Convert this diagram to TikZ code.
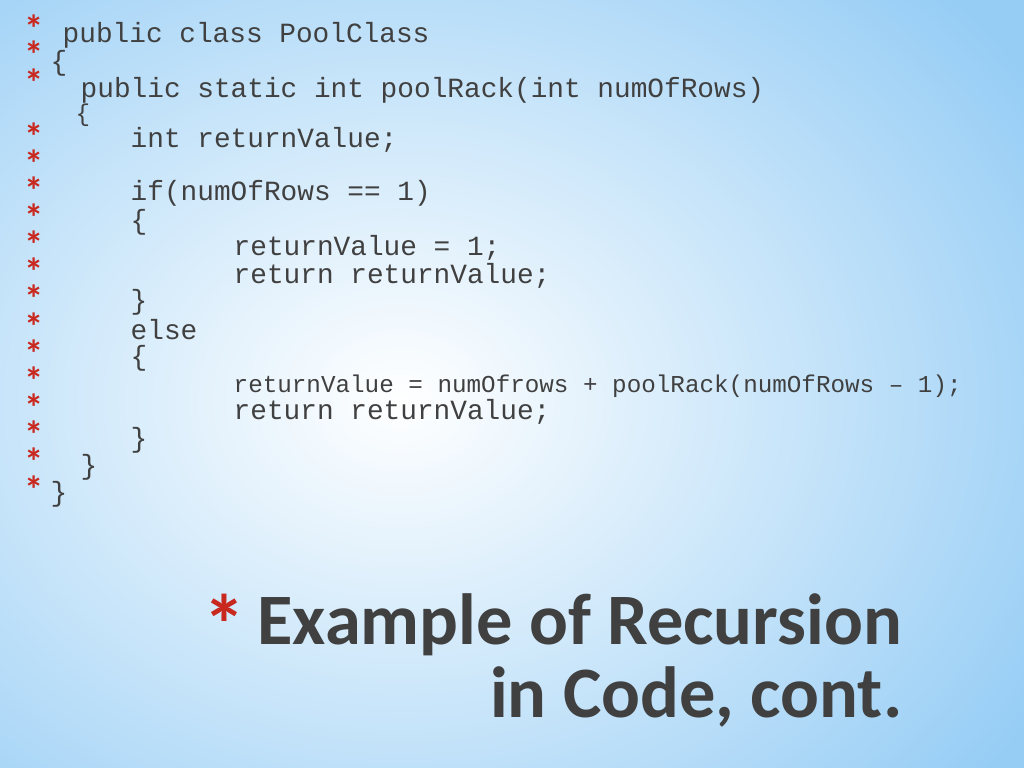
\documentclass[tikz,border=0pt]{standalone}
\usepackage{fontspec}
\setmainfont{Carlito}
\setmonofont{Liberation Mono}
\definecolor{codegray}{RGB}{64,64,64}
\definecolor{starred}{RGB}{200,40,30}
\definecolor{skyblue}{RGB}{150,205,245}
\tikzset{
  code/.style={anchor=west,inner sep=0pt,text=codegray,font=\fontsize{7.9pt}{9pt}\ttfamily},
  smallcode/.style={code,font=\fontsize{6.9pt}{8pt}\ttfamily},
  star/.style={inner sep=0pt,text=starred,font=\fontsize{11pt}{11pt}\bfseries},
  title/.style={anchor=base east,inner sep=0pt,font=\fontsize{20.6pt}{24pt}\bfseries,text=codegray}
}
\begin{document}
\begin{tikzpicture}[x=0.01cm,y=-0.01cm]
\useasboundingbox (0,0) rectangle (1024,768);
\clip (0,0) rectangle (1024,768);
\shade[inner color=white,outer color=skyblue] (-350,-200) rectangle (1150,1000);
% bullets
\foreach \y [count=\i] in {22,48,76,130,157,184,211,238,265,292,320,347,374,401,428,455,483}
  \node[star] (s\i) at (34,\y+7) {*};
% code
\node[code] (l1) at (62,35) {public class PoolClass};
\node[code] (l2) at (50,63) {\{};
\node[code] (l3) at (80,90) {public static int poolRack(int numOfRows)};
\node[smallcode] (l4) at (75,115) {\{};
\node[code] (l5) at (130,140) {int returnValue;};
\node[code] (l6) at (130,193) {if(numOfRows == 1)};
\node[code] (l7) at (130,222) {\{};
\node[code] (l8) at (233,248) {returnValue = 1;};
\node[code] (l9) at (233,276) {return returnValue;};
\node[code] (l10) at (130,302) {\}};
\node[code] (l11) at (130,330) {else};
\node[code] (l12) at (130,358) {\{};
\node[smallcode] (l13) at (233,386) {returnValue = numOfrows + poolRack(numOfRows – 1);};
\node[code] (l14) at (233,412) {return returnValue;};
\node[code] (l15) at (130,440) {\}};
\node[code] (l16) at (80,467) {\}};
\node[code] (l17) at (50,494) {\}};
% title
\node[title] (t1) at (903,645) {Example of Recursion};
\node[title] (t2) at (903,718) {in Code, cont.};
\node[anchor=north east,inner sep=0pt,text=starred,font=\fontsize{24pt}{24pt}\bfseries] (ts) at ([xshift=-3]t1.north west) {*};
\end{tikzpicture}
\end{document}
